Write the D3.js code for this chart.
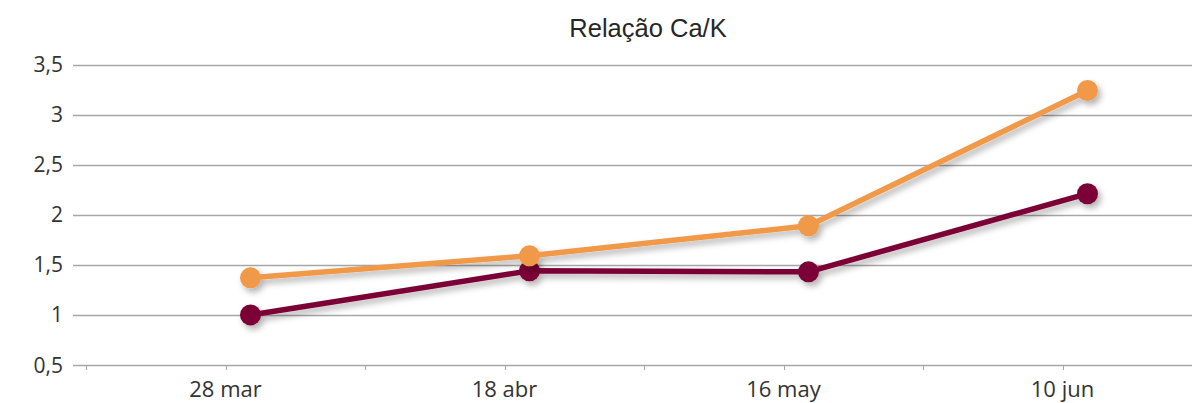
<!DOCTYPE html>
<html lang="pt">
<head>
<meta charset="UTF-8">
<title>Relação Ca/K</title>
<style>
  html, body { margin: 0; padding: 0; background: #fff; }
</style>
</head>
<body>
<div id="graph"></div>
<script src="https://cdn.jsdelivr.net/npm/d3@7"></script>
<script>
    // dados
    var categories = ["28 mar", "18 abr", "16 may", "10 jun"];
    var serieLaranja = [1.37, 1.59, 1.89, 3.24];
    var serieVinho = [1.0, 1.44, 1.43, 2.21];
    var yTicks = [0.5, 1, 1.5, 2, 2.5, 3, 3.5];

    var width = 1192, height = 403;
    var svg = d3.select("#graph").append("svg")
        .attr("width", width).attr("height", height);

    // sombra
    var defs = svg.append("defs");
    defs.append("filter").attr("id", "sombra")
        .attr("x", "-50%").attr("y", "-50%").attr("width", "200%").attr("height", "200%")
        .append("feDropShadow")
        .attr("dx", 3).attr("dy", 4).attr("stdDeviation", 3)
        .attr("flood-color", "#000").attr("flood-opacity", 0.3);

    var xScale = d3.scaleBand()
        .domain(categories)
        .range([86, 1202])
        .padding(0);

    var yScale = d3.scaleLinear()
        .domain([0.5, 3.5])
        .range([365, 64.5]);

    // grade
    svg.append("g")
        .selectAll("line")
        .data(yTicks)
        .enter()
        .append("line")
        .attr("x1", 73).attr("x2", width)
        .attr("y1", function(d) { return Math.round(yScale(d)) + 0.5; })
        .attr("y2", function(d) { return Math.round(yScale(d)) + 0.5; })
        .attr("stroke", "#a6a6a6").attr("stroke-width", 1.3);

    // eixo Y
    var fmt = function(d) { return String(d).replace(".", ","); };
    svg.append("g")
        .selectAll("text")
        .data(yTicks)
        .enter()
        .append("text")
        .attr("x", 63)
        .attr("y", function(d) { return yScale(d); })
        .attr("dy", "0.36em")
        .attr("text-anchor", "end")
        .attr("font-family", "'Open Sans', sans-serif")
        .attr("font-size", 21)
        .attr("fill", "#333")
        .text(fmt);

    // eixo X: marcas nas bordas e nos centros das categorias
    var tickXs = [];
    categories.forEach(function(c) {
        tickXs.push(xScale(c));
        tickXs.push(xScale(c) + xScale.bandwidth() / 2);
    });
    svg.append("g")
        .selectAll("line")
        .data(tickXs)
        .enter()
        .append("line")
        .attr("x1", function(d) { return Math.round(d) + 0.5; })
        .attr("x2", function(d) { return Math.round(d) + 0.5; })
        .attr("y1", 365).attr("y2", 370)
        .attr("stroke", "#a6a6a6").attr("stroke-width", 1);

    svg.append("g")
        .selectAll("text")
        .data(categories)
        .enter()
        .append("text")
        .attr("x", function(d) { return xScale(d) + xScale.bandwidth() / 2; })
        .attr("y", 397)
        .attr("text-anchor", "middle")
        .attr("font-family", "'Open Sans', sans-serif")
        .attr("font-size", 22)
        .attr("fill", "#333")
        .text(function(d) { return d; });

    // título
    svg.append("text")
        .attr("x", 648).attr("y", 37)
        .attr("text-anchor", "middle")
        .attr("font-family", "'Liberation Sans', Arial, sans-serif")
        .attr("font-size", 25.5)
        .attr("fill", "#262626")
        .text("Relação Ca/K");

    // séries
    var offset = 25; // os pontos ficam deslocados à direita do rótulo
    var series = [
        { values: serieVinho, color: "#7a0036" },
        { values: serieLaranja, color: "#f0994a" }
    ];
    var line = d3.line()
        .x(function(d, i) { return xScale(categories[i]) + xScale.bandwidth() / 2 + offset; })
        .y(function(d) { return yScale(d); });

    series.forEach(function(s) {
        var g = svg.append("g").attr("filter", "url(#sombra)");
        g.append("path")
            .datum(s.values)
            .attr("d", line)
            .attr("fill", "none")
            .attr("stroke", s.color)
            .attr("stroke-width", 5.5)
            .attr("stroke-linejoin", "round");
        g.selectAll("circle")
            .data(s.values)
            .enter()
            .append("circle")
            .attr("cx", function(d, i) { return xScale(categories[i]) + xScale.bandwidth() / 2 + offset; })
            .attr("cy", function(d) { return yScale(d); })
            .attr("r", 10.5)
            .attr("fill", s.color);
    });
</script>
</body>
</html>
